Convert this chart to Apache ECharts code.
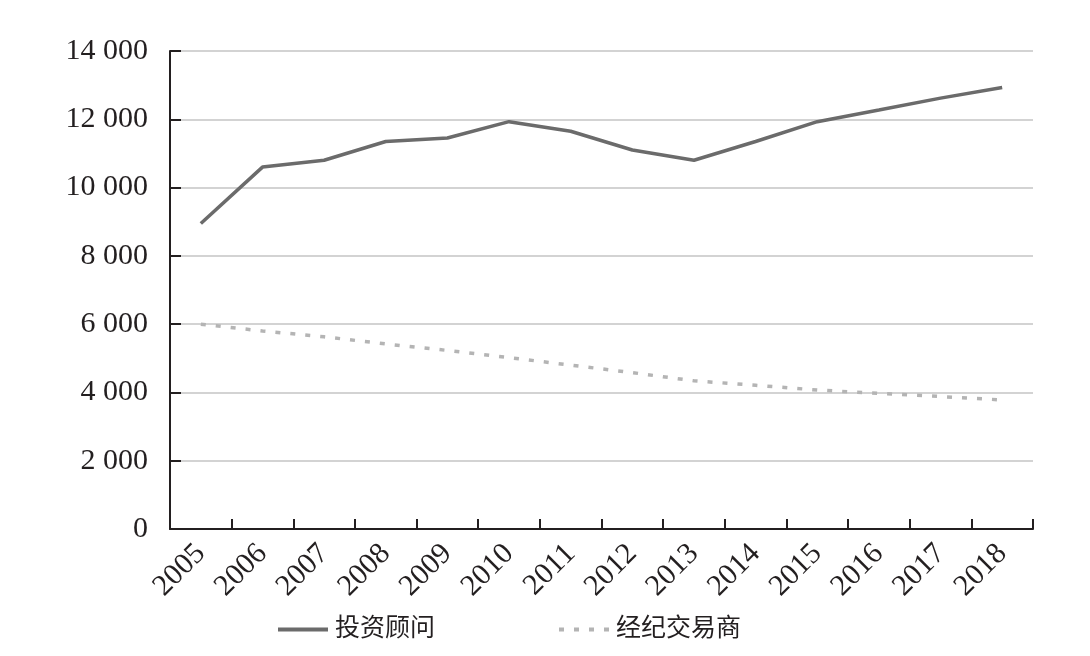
<!DOCTYPE html>
<html>
<head>
<meta charset="utf-8">
<script src="https://cdn.jsdelivr.net/npm/echarts@6/dist/echarts.min.js"></script>
<style>
  html, body { margin: 0; padding: 0; background: #fff; }
  #chart { width: 1090px; height: 656px; }
</style>
</head>
<body>
<div id="chart"></div>
<script>
const years = ['2005', '2006', '2007', '2008', '2009', '2010', '2011', '2012', '2013', '2014', '2015', '2016', '2017', '2018'];
const advisers = [8950, 10600, 10800, 11350, 11450, 11930, 11650, 11100, 10800, 11350, 11930, 12270, 12620, 12930];
const brokers = [6000, 5800, 5630, 5420, 5230, 5020, 4800, 4580, 4340, 4210, 4070, 3970, 3880, 3780];
const seriesNames = ['投资顾问', '经纪交易商'];

const font = '"Liberation Serif", "Noto Sans CJK SC", serif';
const ink = '#231f20';

// thousands with a space, e.g. 14 000
const fmt = (v) => String(v).replace(/\B(?=(\d{3})+(?!\d))/g, ' ');

const chart = echarts.init(document.getElementById('chart'));

const option = {
    animation: false,
    backgroundColor: '#fff',
    grid: {
        left: 170,
        right: 57,
        top: 51,
        bottom: 127,
        containLabel: false
    },
    legend: {
        left: 271,
        top: 612,
        itemWidth: 50,
        itemHeight: 14,
        itemGap: 122,
        itemStyle: { opacity: 0 },
        lineStyle: { width: 4 },
        textStyle: {
            fontFamily: font,
            fontSize: 25,
            color: ink,
            padding: [0, 0, 0, 2]
        },
        data: seriesNames
    },
    xAxis: {
        type: 'category',
        data: years,
        boundaryGap: true,
        axisLine: { lineStyle: { color: ink, width: 2 } },
        axisTick: { show: true, inside: true, length: 10, lineStyle: { color: ink, width: 2 } },
        axisLabel: {
            inside: false,
            rotate: 45,
            margin: 20,
            fontFamily: font,
            fontSize: 30,
            color: ink
        },
        splitLine: { show: false }
    },
    yAxis: {
        type: 'value',
        min: 0,
        max: 14000,
        interval: 2000,
        axisLine: { show: true, lineStyle: { color: ink, width: 2 } },
        axisTick: { show: true, inside: true, length: 11, lineStyle: { color: ink, width: 2 } },
        axisLabel: {
            inside: false,
            margin: 22,
            fontFamily: font,
            fontSize: 30,
            color: ink,
            formatter: fmt
        },
        splitLine: { lineStyle: { color: '#c4c4c4', width: 1.5 } }
    },
    series: [
        {
            name: seriesNames[0],
            type: 'line',
            data: advisers,
            symbol: 'none',
            color: '#6b6b6b',
            lineStyle: { color: '#6b6b6b', width: 3.5 }
        },
        {
            name: seriesNames[1],
            type: 'line',
            data: brokers,
            symbol: 'none',
            color: '#b4b4b4',
            lineStyle: { color: '#b4b4b4', width: 3.5, type: [5, 10] }
        }
    ]
};

chart.setOption(option);
</script>
</body>
</html>
